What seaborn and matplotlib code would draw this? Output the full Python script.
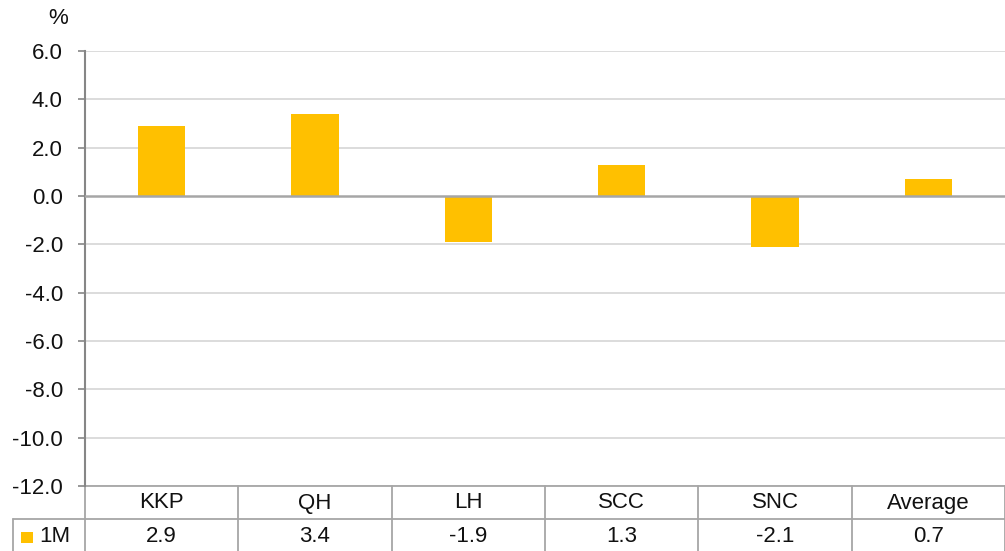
import matplotlib
matplotlib.use("Agg")
import matplotlib.pyplot as plt
import seaborn as sns
import pandas as pd
from matplotlib.lines import Line2D
from matplotlib.patches import Rectangle

categories = ["KKP", "QH", "LH", "SCC", "SNC", "Average"]
values_1m = [2.9, 3.4, -1.9, 1.3, -2.1, 0.7]
series_name = "1M"
yticks = [6.0, 4.0, 2.0, 0.0, -2.0, -4.0, -6.0, -8.0, -10.0, -12.0]

sns.set_theme(style="white")
plt.rcParams["font.family"] = ["Liberation Sans", "DejaVu Sans"]

BAR = "#FFC000"
GRID = "#d9d9d9"
AXC = "#868686"
TXT = "#111111"
FS = 16

df = pd.DataFrame({"cat": categories, "val": values_1m})

fig = plt.figure(figsize=(10.05, 5.51), dpi=100)
ax = fig.add_axes([85 / 1005, 1 - 486 / 551, 920 / 1005, 435 / 551])

sns.barplot(data=df, x="cat", y="val", color=BAR, width=0.31, ax=ax,
            saturation=1, edgecolor="none")

ax.set_ylim(-12, 6)
ax.set_xlim(-0.5, len(categories) - 0.5)
ax.set_yticks(yticks)
ax.set_yticklabels([f"{t:.1f}" for t in yticks], fontsize=FS, color=TXT)
ax.set_xticks([])
ax.set_xlabel("")
ax.set_ylabel("")
for t in yticks:
    if t != 0:
        ax.axhline(t, color=GRID, lw=1.3, zorder=0)
ax.axhline(0, color="#a6a6a6", lw=1.8, zorder=3)
for s in ["top", "right", "bottom"]:
    ax.spines[s].set_visible(False)
ax.spines["left"].set_color(AXC)
ax.spines["left"].set_linewidth(1.5)
ax.tick_params(axis="y", left=True, length=5, width=1.2, color=AXC, pad=11)

# percent label
fig.text(58 / 1005, 1 - 19 / 551, "%", ha="center", va="center", fontsize=FS, color=TXT)

# data table below axes
tr = ax.get_xaxis_transform()
row1_y = -33 / 435
row_c1 = -17 / 435
row_c2 = -51 / 435
bottom = -70 / 435
lc = "#a6a6a6"
for i in range(len(categories) + 1):
    x = i - 0.5
    ax.add_line(Line2D([x, x], [0, bottom], transform=tr, color=lc, lw=1.3, clip_on=False))
ax.add_line(Line2D([-0.5, len(categories) - 0.5], [0, 0], transform=tr, color=lc, lw=1.3, clip_on=False))
ax.add_line(Line2D([-0.5, len(categories) - 0.5], [row1_y, row1_y], transform=tr, color=lc, lw=1.3, clip_on=False))
# legend column
fig.add_artist(Line2D([13 / 1005, 85 / 1005], [1 - 519 / 551, 1 - 519 / 551], color=lc, lw=1.3))
fig.add_artist(Line2D([13 / 1005, 13 / 1005], [1 - 519 / 551, 0], color=lc, lw=1.3))
fig.add_artist(Rectangle((21 / 1005, 1 - 543 / 551), 12 / 1005, 11 / 551, color=BAR, lw=0))
fig.text(39 / 1005, 1 - 537 / 551, series_name, ha="left", va="center", fontsize=FS, color=TXT)

for i, (c, v) in enumerate(zip(categories, values_1m)):
    ax.text(i, row_c1, c, transform=tr, ha="center", va="center", fontsize=FS, color=TXT)
    ax.text(i, row_c2, f"{v:.1f}", transform=tr, ha="center", va="center", fontsize=FS, color=TXT)

fig.savefig("out.png", dpi=100, facecolor="white")
